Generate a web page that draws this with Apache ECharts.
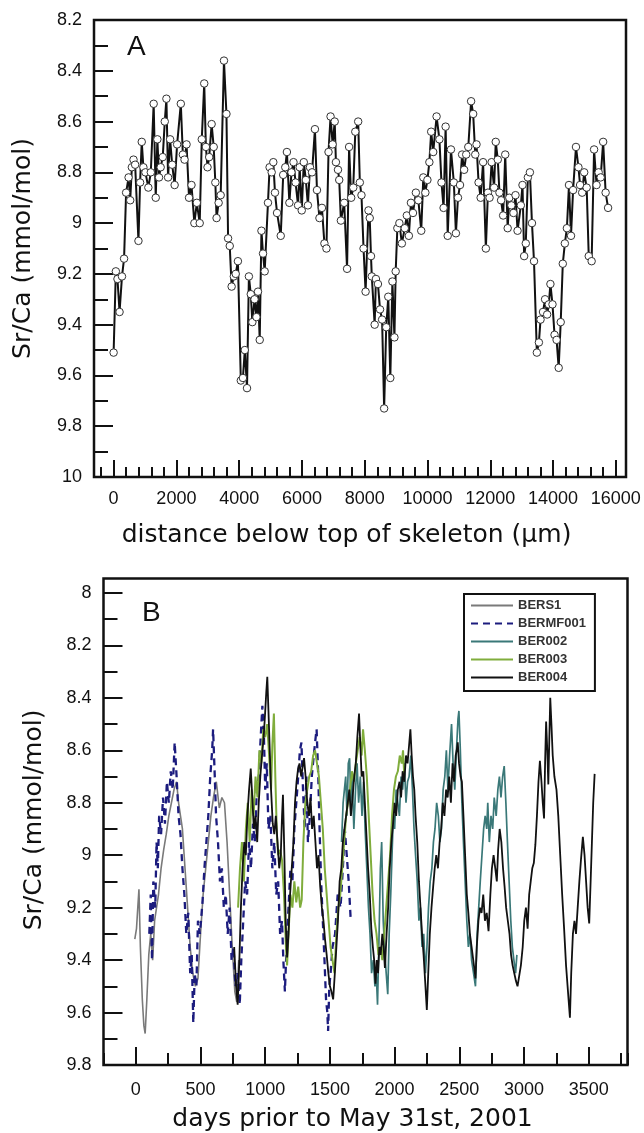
<!DOCTYPE html>
<html><head><meta charset="utf-8">
<script src="https://cdn.jsdelivr.net/npm/echarts@6/dist/echarts.min.js"></script>
<style>html,body{margin:0;padding:0;background:#fff}#c{width:644px;height:1133px}</style>
</head><body><div id="c"></div>
<script>
// ---------- Panel A: Sr/Ca vs distance below top of skeleton (µm) ----------
const panelA = [[0,9.51],[71,9.19],[123,9.22],[189,9.35],[267,9.21],[333,9.14],[398,8.88],[477,8.82],[529,8.91],[581,8.78],[634,8.75],[686,8.77],[791,9.07],[844,8.84],[896,8.68],[949,8.78],[1014,8.80],[1106,8.86],[1185,8.80],[1276,8.53],[1342,8.90],[1394,8.67],[1447,8.82],[1499,8.78],[1565,8.74],[1630,8.60],[1682,8.51],[1735,8.82],[1800,8.67],[1866,8.77],[1944,8.85],[2023,8.69],[2141,8.53],[2206,8.73],[2259,8.75],[2324,8.69],[2403,8.90],[2481,8.85],[2573,9.00],[2651,8.92],[2743,9.00],[2809,8.67],[2887,8.45],[2940,8.70],[2992,8.78],[3045,8.74],[3123,8.61],[3189,8.70],[3241,8.84],[3280,8.98],[3346,8.92],[3411,8.89],[3516,8.36],[3595,8.57],[3647,9.06],[3700,9.09],[3760,9.25],[3830,9.21],[3890,9.20],[3960,9.15],[4053,9.62],[4120,9.61],[4180,9.50],[4250,9.65],[4310,9.21],[4370,9.28],[4420,9.39],[4490,9.30],[4550,9.37],[4600,9.27],[4655,9.46],[4710,9.03],[4760,9.12],[4813,9.19],[4918,8.92],[4970,8.78],[5036,8.80],[5088,8.76],[5141,8.88],[5207,8.96],[5325,9.05],[5403,8.81],[5469,8.78],[5521,8.72],[5600,8.92],[5666,8.80],[5731,8.76],[5797,8.84],[5876,8.93],[5928,8.78],[5994,8.95],[6059,8.76],[6125,8.83],[6190,8.93],[6256,8.78],[6322,8.80],[6414,8.63],[6479,8.87],[6558,8.98],[6637,8.94],[6716,9.08],[6781,9.10],[6847,8.72],[6912,8.58],[6978,8.69],[7044,8.60],[7083,8.76],[7149,8.79],[7188,8.83],[7241,8.99],[7346,8.92],[7438,9.18],[7503,8.70],[7569,8.90],[7635,8.86],[7700,8.64],[7792,8.60],[7845,8.84],[7897,8.89],[7963,9.10],[8028,9.27],[8120,8.95],[8160,8.98],[8200,9.13],[8226,9.21],[8317,9.40],[8357,9.22],[8422,9.24],[8488,9.34],[8554,9.38],[8619,9.73],[8685,9.41],[8751,9.29],[8816,9.61],[8882,9.23],[8947,9.45],[8987,9.19],[9040,9.02],[9105,9.00],[9184,9.08],[9276,9.02],[9342,8.97],[9407,9.05],[9473,8.92],[9538,8.96],[9630,8.88],[9709,8.91],[9801,9.03],[9867,8.82],[9932,8.88],[9998,8.83],[10060,8.76],[10118,8.64],[10183,8.72],[10290,8.58],[10380,8.67],[10446,8.84],[10513,8.94],[10578,8.62],[10644,9.05],[10748,8.71],[10840,8.84],[10906,9.04],[10972,8.90],[11037,8.85],[11103,8.73],[11168,8.79],[11234,8.73],[11300,8.70],[11390,8.52],[11456,8.57],[11522,8.73],[11562,8.69],[11628,8.84],[11694,8.90],[11772,8.76],[11860,9.10],[11926,8.88],[11978,8.90],[12044,8.76],[12122,8.86],[12175,8.68],[12240,8.75],[12293,8.88],[12345,8.91],[12411,8.97],[12477,8.73],[12555,9.02],[12608,8.90],[12673,8.93],[12739,8.96],[12804,8.89],[12870,9.03],[12975,8.93],[13027,8.85],[13080,9.13],[13132,9.08],[13198,8.82],[13263,8.80],[13329,9.00],[13394,9.15],[13485,9.51],[13550,9.47],[13602,9.38],[13681,9.35],[13747,9.30],[13812,9.36],[13865,9.32],[13917,9.24],[13983,9.32],[14048,9.44],[14114,9.46],[14180,9.57],[14245,9.39],[14311,9.16],[14377,9.08],[14442,9.02],[14508,8.85],[14573,9.05],[14639,8.87],[14731,8.70],[14810,8.78],[14862,8.85],[14928,8.88],[14993,8.80],[15072,8.86],[15138,9.13],[15230,9.15],[15308,8.71],[15387,8.85],[15453,8.80],[15518,8.82],[15597,8.68],[15676,8.88],[15754,8.94]];

// ---------- Panel B: Sr/Ca vs days prior to May 31st, 2001 ----------
const bers1 = [[-8,9.32],[5,9.28],[15,9.20],[24,9.13],[35,9.35],[50,9.55],[62,9.65],[72,9.68],[85,9.55],[100,9.38],[115,9.30],[130,9.40],[145,9.25],[160,9.20],[175,9.15],[195,9.05],[215,8.98],[235,8.92],[255,8.85],[275,8.80],[295,8.75],[315,8.72],[330,8.80],[345,8.85],[360,8.90],[380,9.05],[400,9.20],[420,9.35],[440,9.45],[460,9.50],[480,9.47],[500,9.30],[520,9.15],[540,9.05],[560,8.95],[580,8.85],[600,8.78],[622,8.72],[645,8.82],[665,8.78],[685,8.80],[705,8.95],[725,9.15],[745,9.35],[765,9.52],[780,9.56],[795,9.40]];
const bermf001 = [[104,9.30],[115,9.15],[125,9.40],[135,9.10],[150,9.20],[160,8.95],[170,9.05],[180,8.85],[195,8.92],[210,8.78],[225,8.88],[240,8.72],[255,8.80],[270,8.68],[285,8.75],[300,8.57],[315,8.70],[330,8.85],[345,8.92],[360,9.05],[375,9.15],[390,9.30],[405,9.22],[420,9.45],[432,9.38],[444,9.64],[455,9.45],[468,9.50],[480,9.25],[495,9.30],[515,9.18],[530,9.05],[545,8.95],[560,8.85],[575,8.70],[590,8.60],[597,8.52],[610,8.70],[620,8.85],[635,8.95],[650,9.10],[665,9.05],[680,9.20],[695,9.15],[710,9.30],[725,9.20],[740,9.40],[755,9.35],[770,9.50],[785,9.45],[803,9.57],[815,9.40],[830,9.25],[845,9.10],[860,9.15],[875,8.95],[890,9.05],[905,8.88],[920,8.95],[935,8.75],[950,8.70],[965,8.55],[978,8.43],[990,8.55],[1000,8.75],[1012,8.65],[1025,8.90],[1040,8.85],[1055,9.05],[1070,8.95],[1085,9.15],[1100,9.10],[1115,9.30],[1130,9.25],[1140,9.40],[1152,9.52],[1165,9.35],[1180,9.20],[1195,9.05],[1210,9.10],[1225,8.90],[1240,8.80],[1255,8.70],[1268,8.60],[1280,8.57],[1292,8.75],[1305,8.90],[1318,8.70],[1330,8.95],[1345,8.85],[1360,8.70],[1375,8.62],[1390,8.55],[1397,8.52],[1410,8.70],[1420,8.90],[1432,9.10],[1445,9.25],[1458,9.40],[1470,9.55],[1480,9.60],[1486,9.67],[1495,9.50],[1505,9.45],[1520,9.35],[1540,9.30],[1560,9.15],[1582,9.20],[1600,9.05],[1615,8.90],[1630,9.00],[1645,9.10],[1660,9.24]];
const ber002 = [[1590,8.95],[1602,8.80],[1612,8.75],[1622,8.70],[1632,8.85],[1642,8.65],[1652,8.63],[1662,8.80],[1672,8.70],[1685,8.90],[1698,8.75],[1710,8.65],[1722,8.80],[1735,8.70],[1748,8.85],[1760,8.72],[1772,8.90],[1785,9.05],[1798,9.20],[1810,9.30],[1822,9.45],[1835,9.40],[1848,9.50],[1858,9.45],[1868,9.57],[1880,9.30],[1890,9.05],[1900,8.95],[1912,9.25],[1922,9.35],[1935,9.45],[1947,9.53],[1958,9.30],[1970,9.15],[1980,9.00],[1990,8.85],[2000,8.90],[2012,8.75],[2025,8.80],[2037,8.85],[2050,8.70],[2062,8.75],[2075,8.65],[2088,8.80],[2100,8.72],[2112,8.70],[2125,8.62],[2138,8.75],[2150,8.90],[2162,9.00],[2175,9.10],[2188,9.25],[2200,9.20],[2212,9.35],[2225,9.30],[2238,9.45],[2250,9.35],[2262,9.20],[2275,9.10],[2288,9.05],[2300,8.95],[2312,8.90],[2325,8.80],[2338,8.85],[2350,8.95],[2362,8.90],[2375,8.75],[2388,8.70],[2400,8.60],[2412,8.75],[2425,8.62],[2440,8.50],[2452,8.65],[2465,8.75],[2478,8.60],[2490,8.48],[2497,8.45],[2508,8.60],[2520,8.80],[2532,8.95],[2545,9.10],[2558,9.25],[2570,9.35],[2582,9.30],[2595,9.40],[2610,9.45],[2625,9.50],[2638,9.30],[2650,9.20],[2662,9.10],[2675,9.00],[2688,8.90],[2700,8.85],[2712,8.90],[2720,8.80],[2732,8.95],[2745,8.85],[2758,8.90],[2770,8.78],[2785,8.85],[2798,8.75],[2810,8.70],[2822,8.78],[2835,8.70],[2847,8.66],[2860,8.80],[2872,8.95],[2885,9.10],[2898,9.25],[2910,9.35],[2922,9.40],[2935,9.45],[2945,9.38]];
const ber003 = [[790,9.20],[805,9.05],[820,8.95],[835,9.10],[850,8.90],[865,8.80],[880,8.95],[895,8.75],[910,8.85],[925,8.70],[940,8.78],[955,8.60],[970,8.65],[985,8.52],[1000,8.55],[1015,8.50],[1030,8.62],[1045,8.75],[1055,8.58],[1067,8.46],[1078,8.70],[1090,8.92],[1100,9.00],[1115,8.98],[1130,9.02],[1145,9.15],[1160,9.35],[1169,9.42],[1180,9.30],[1195,9.15],[1210,9.20],[1225,9.10],[1240,9.18],[1255,9.12],[1270,9.20],[1282,9.17],[1295,8.95],[1310,8.80],[1325,8.75],[1340,8.70],[1355,8.68],[1370,8.62],[1385,8.60],[1400,8.65],[1415,8.70],[1430,8.80],[1445,8.90],[1460,9.05],[1475,9.15],[1490,9.25],[1505,9.35],[1520,9.40],[1535,9.45],[1550,9.30],[1565,9.20],[1580,9.15],[1595,9.05],[1610,8.95],[1625,8.85],[1640,8.80],[1655,8.75],[1670,8.68],[1685,8.72],[1700,8.65],[1715,8.60],[1730,8.55],[1745,8.62],[1756,8.52],[1770,8.60],[1785,8.70],[1800,8.85],[1815,9.00],[1830,9.15],[1845,9.25],[1860,9.30],[1875,9.38],[1890,9.35],[1905,9.40],[1920,9.30],[1935,9.20],[1950,9.10],[1965,9.00],[1980,8.85],[1995,8.75],[2010,8.70],[2025,8.68],[2040,8.62],[2055,8.65],[2065,8.60],[2075,8.70]];
const ber004 = [[760,9.35],[775,9.50],[787,9.57],[800,9.40],[812,9.20],[825,9.05],[838,8.95],[850,9.00],[862,8.85],[875,8.75],[888,8.67],[900,8.78],[912,8.90],[925,8.85],[938,8.95],[950,8.80],[962,8.70],[975,8.62],[988,8.55],[1000,8.45],[1008,8.38],[1016,8.32],[1025,8.45],[1035,8.60],[1045,8.75],[1058,8.88],[1070,8.92],[1082,8.85],[1095,8.95],[1108,9.05],[1120,9.00],[1130,8.85],[1137,8.77],[1148,9.00],[1158,9.25],[1169,9.39],[1180,9.30],[1192,9.15],[1205,9.05],[1218,8.95],[1230,8.80],[1242,8.72],[1254,8.67],[1265,8.65],[1278,8.70],[1290,8.66],[1300,8.63],[1312,8.70],[1325,8.80],[1338,8.85],[1350,8.78],[1362,8.90],[1375,8.85],[1388,8.95],[1400,9.05],[1412,9.00],[1425,9.12],[1438,9.20],[1450,9.25],[1462,9.32],[1475,9.38],[1488,9.45],[1500,9.50],[1512,9.52],[1525,9.55],[1538,9.45],[1550,9.35],[1562,9.25],[1575,9.10],[1588,9.05],[1600,8.95],[1612,8.90],[1625,8.85],[1638,8.80],[1650,8.75],[1662,8.85],[1675,8.78],[1688,8.70],[1700,8.65],[1712,8.55],[1725,8.46],[1735,8.58],[1745,8.70],[1758,8.68],[1770,8.80],[1782,8.92],[1795,9.05],[1808,9.15],[1820,9.28],[1832,9.35],[1842,9.40],[1852,9.49],[1862,9.40],[1872,9.45],[1882,9.35],[1892,9.38],[1905,9.30],[1915,9.35],[1925,9.43],[1938,9.30],[1950,9.20],[1962,9.05],[1975,8.95],[1988,8.88],[2000,8.80],[2012,8.85],[2025,8.75],[2038,8.72],[2050,8.78],[2062,8.68],[2075,8.72],[2088,8.62],[2100,8.65],[2112,8.58],[2122,8.52],[2132,8.62],[2142,8.70],[2152,8.75],[2162,8.85],[2175,8.95],[2188,9.10],[2200,9.20],[2212,9.30],[2224,9.38],[2236,9.48],[2249,9.59],[2260,9.45],[2272,9.30],[2285,9.20],[2298,9.12],[2310,9.05],[2322,9.00],[2335,9.05],[2348,8.95],[2360,8.90],[2372,8.80],[2385,8.85],[2398,8.75],[2410,8.78],[2422,8.70],[2435,8.80],[2448,8.65],[2460,8.72],[2472,8.62],[2480,8.60],[2488,8.57],[2498,8.65],[2510,8.70],[2520,8.72],[2532,8.85],[2545,9.00],[2558,9.15],[2570,9.22],[2582,9.30],[2595,9.35],[2608,9.40],[2618,9.44],[2625,9.47],[2635,9.35],[2648,9.25],[2660,9.20],[2672,9.22],[2685,9.15],[2698,9.25],[2712,9.22],[2726,9.29],[2740,9.15],[2752,9.05],[2765,9.00],[2778,9.05],[2790,9.10],[2800,8.98],[2812,8.90],[2825,8.95],[2838,9.05],[2850,9.12],[2862,9.20],[2875,9.25],[2888,9.30],[2900,9.38],[2912,9.42],[2925,9.45],[2938,9.48],[2950,9.50],[2964,9.50],[2976,9.42],[2990,9.35],[3002,9.25],[3015,9.20],[3028,9.28],[3040,9.15],[3052,9.10],[3064,9.05],[3076,9.03],[3088,8.96],[3100,8.85],[3112,8.72],[3123,8.64],[3135,8.72],[3145,8.80],[3155,8.86],[3163,8.65],[3171,8.49],[3180,8.60],[3188,8.73],[3196,8.55],[3203,8.40],[3212,8.50],[3222,8.62],[3235,8.70],[3251,8.75],[3265,8.85],[3280,9.00],[3295,9.15],[3310,9.28],[3325,9.42],[3340,9.52],[3355,9.62],[3365,9.45],[3378,9.30],[3390,9.25],[3402,9.30],[3415,9.20],[3428,9.10],[3440,9.02],[3455,8.93],[3468,9.00],[3480,9.10],[3492,9.20],[3504,9.26],[3515,9.10],[3525,8.95],[3535,8.80],[3546,8.69]];

const seriesNamesB = ['BERS1','BERMF001','BER002','BER003','BER004'];
const xTickLabelsA = ['0','2000','4000','6000','8000','10000','12000','14000','16000'];
const xTickLabelsB = ['0','500','1000','1500','2000','2500','3000','3500'];

// ---------- layout ----------
const FONT = "'Liberation Sans', Arial, sans-serif";
const TITLEFONT = "'DejaVu Sans', sans-serif";
const A = {l:94, t:20, r:626, b:477, xmin:-625, xmax:16325, ymin:8.2, ymax:10};
const B = {l:103.5, t:578.5, r:627.5, b:1065, xmin:-250, xmax:3800, ytop:7.945, ymax:9.8};
const pxA = v => A.l + (v - A.xmin) / (A.xmax - A.xmin) * (A.r - A.l);
const pxB = v => B.l + (v - B.xmin) / (B.xmax - B.xmin) * (B.r - B.l);
const pyB = v => B.t + (v - B.ytop) / (B.ymax - B.ytop) * (B.b - B.t);

const g = (l, t, r, b, extra) => Object.assign({left:l, top:t, width:r - l, height:b - t, containLabel:false, outerBoundsMode:'none', show:false}, extra || {});
const frame = {show:true, borderColor:'#111', borderWidth:2.5, backgroundColor:'transparent'};

const grids = [
  g(A.l, A.t, A.r, A.b, frame),          // 0 panel A data + frame
  g(pxA(-400), A.t, A.r, A.b),            // 1 A minor x ticks
  g(pxA(0), A.t, A.r, A.b),               // 2 A major x ticks
  g(B.l, B.t, B.r, B.b, frame),           // 3 panel B data + frame
  g(B.l, pyB(8), B.r, B.b),               // 4 B y ticks
  g(pxB(0), B.t, B.r, B.b)                // 5 B major x ticks
];

const tickStyle = {color:'#111', width:2};
const lbl = {color:'#111', fontSize:18, fontFamily:FONT};
const noLine = {show:false, onZero:false};
const hiddenX = (gi, min, max) => ({type:'value', gridIndex:gi, min, max, show:false, axisLine:noLine});
const hiddenY = (gi, min, max) => ({type:'value', gridIndex:gi, min, max, inverse:true, show:false, axisLine:noLine});

const xAxes = [
  hiddenX(0, A.xmin, A.xmax),
  {type:'value', gridIndex:1, min:-400, max:A.xmax, interval:400,
   axisLine:noLine, splitLine:{show:false}, axisLabel:{show:false},
   axisTick:{show:true, inside:true, length:10, lineStyle:tickStyle},
   name:'distance below top of skeleton (\u03bcm)', nameLocation:'middle', nameGap:46, nameMoveOverlap:false,
   nameTextStyle:{fontSize:25, fontFamily:TITLEFONT, color:'#111', padding:[0,34,0,0]}},
  {type:'value', gridIndex:2, min:0, max:A.xmax, interval:2000,
   axisLine:noLine, splitLine:{show:false},
   axisTick:{show:true, inside:true, length:17, lineStyle:tickStyle},
   axisLabel:Object.assign({margin:13, showMaxLabel:false, formatter:v => xTickLabelsA.includes(String(v)) ? String(v) : ''}, lbl)},
  {type:'value', gridIndex:3, min:B.xmin, max:B.xmax, interval:250,
   axisLine:noLine, splitLine:{show:false}, axisLabel:{show:false},
   axisTick:{show:true, inside:true, length:12, lineStyle:tickStyle},
   name:'days prior to May 31st, 2001', nameLocation:'middle', nameGap:42, nameMoveOverlap:false,
   nameTextStyle:{fontSize:25, fontFamily:TITLEFONT, color:'#111', padding:[0,26,0,0]}},
  hiddenX(4, B.xmin, B.xmax),
  {type:'value', gridIndex:5, min:0, max:B.xmax, interval:500,
   axisLine:noLine, splitLine:{show:false},
   axisTick:{show:true, inside:true, length:18, lineStyle:tickStyle},
   axisLabel:Object.assign({margin:16, showMaxLabel:false, formatter:v => xTickLabelsB.includes(String(v)) ? String(v) : ''}, lbl)}
];

const yAxes = [
  {type:'value', gridIndex:0, min:A.ymin, max:A.ymax, interval:0.2, inverse:true,
   axisLine:noLine, splitLine:{show:false},
   axisTick:{show:true, inside:true, length:19, lineStyle:tickStyle},
   minorTick:{show:true, splitNumber:2, length:14, lineStyle:tickStyle},
   axisLabel:Object.assign({margin:12}, lbl),
   name:'Sr/Ca (mmol/mol)', nameLocation:'middle', nameGap:58, nameRotate:90, nameMoveOverlap:false,
   nameTextStyle:{fontSize:25, fontFamily:TITLEFONT, color:'#111'}},
  hiddenY(1, A.ymin, A.ymax),
  hiddenY(2, A.ymin, A.ymax),
  hiddenY(3, B.ytop, B.ymax),
  {type:'value', gridIndex:4, min:8, max:B.ymax, interval:0.2, inverse:true,
   axisLine:noLine, splitLine:{show:false},
   axisTick:{show:true, inside:true, length:19, lineStyle:tickStyle},
   minorTick:{show:true, splitNumber:2, length:14, lineStyle:tickStyle},
   axisLabel:Object.assign({margin:12}, lbl),
   name:'Sr/Ca (mmol/mol)', nameLocation:'middle', nameGap:57, nameRotate:90, nameMoveOverlap:false,
   nameTextStyle:{fontSize:25, fontFamily:TITLEFONT, color:'#111', padding:[0,0,0,18]}},
  hiddenY(5, B.ytop, B.ymax)
];

const lineB = (name, data, style) => ({
  name, type:'line', xAxisIndex:3, yAxisIndex:3, data, symbol:'none', showSymbol:false,
  lineStyle:style, itemStyle:{color:style.color}, z:3
});

const option = {
  animation:false,
  backgroundColor:'#fff',
  title:[
    {text:'A', left:122, top:28, padding:5, textStyle:{fontSize:28, fontWeight:'normal', fontFamily:FONT, color:'#111'}},
    {text:'B', left:137, top:594, padding:5, textStyle:{fontSize:28, fontWeight:'normal', fontFamily:FONT, color:'#111'}}
  ],
  legend:{
    data:seriesNamesB, orient:'vertical', left:464, top:594,
    borderColor:'#111', borderWidth:2, padding:[5,9,7,6], itemGap:5,
    itemWidth:42, itemHeight:14, selectedMode:false,
    itemStyle:{opacity:0},
    textStyle:{fontSize:13, fontWeight:'bold', fontFamily:FONT, color:'#333'}
  },
  grid:grids,
  xAxis:xAxes,
  yAxis:yAxes,
  series:[
    {name:'A', type:'line', xAxisIndex:0, yAxisIndex:0, data:panelA,
     symbol:'circle', symbolSize:7.5, showSymbol:true,
     itemStyle:{color:'#fff', borderColor:'#333', borderWidth:1},
     lineStyle:{color:'#111', width:2}, z:3},
    lineB('BERS1', bers1, {color:'#7a7a7a', width:1.6}),
    lineB('BERMF001', bermf001, {color:'#1c1c7e', width:2.3, type:[7,5]}),
    lineB('BER002', ber002, {color:'#3a7878', width:1.7}),
    lineB('BER003', ber003, {color:'#80ad3c', width:2}),
    lineB('BER004', ber004, {color:'#111', width:1.8})
  ]
};
const chart = echarts.init(document.getElementById('c'), null, {renderer:'canvas'});
chart.setOption(option);
</script></body></html>
